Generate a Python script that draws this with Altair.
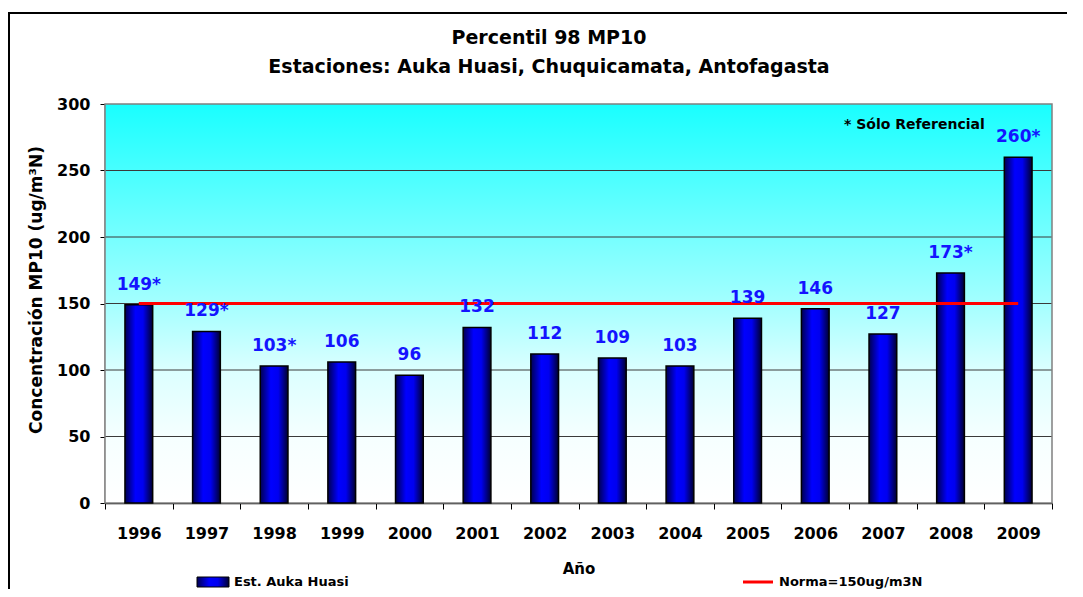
import altair as alt
import pandas as pd

years = ["1996", "1997", "1998", "1999", "2000", "2001", "2002", "2003", "2004",
         "2005", "2006", "2007", "2008", "2009"]
values = [149, 129, 103, 106, 96, 132, 112, 109, 103, 139, 146, 127, 173, 260]
labels = ["149*", "129*", "103*", "106", "96", "132", "112", "109", "103",
          "139", "146", "127", "173*", "260*"]
norma = [150] * 14
y_ticks = [0, 50, 100, 150, 200, 250, 300]
grid_vals = [50, 100, 150, 200, 250]

title1 = "Percentil 98 MP10"
title2 = "Estaciones: Auka Huasi, Chuquicamata, Antofagasta"
y_title = "Concentración MP10 (ug/m³N)"
x_title = "Año"
note = "* Sólo Referencial"
legend_bar = "Est. Auka Huasi"
legend_line = "Norma=150ug/m3N"

df = pd.DataFrame({"year": years, "value": values, "label": labels, "norma": norma})
gdf = pd.DataFrame({"g": grid_vals})

W, H = 947, 399
FONT = "DejaVu Sans"

bar_grad = alt.Gradient(
    gradient="linear", x1=0, x2=1, y1=0, y2=0,
    stops=[alt.GradientStop(color="#000050", offset=0),
           alt.GradientStop(color="#0000FF", offset=0.38),
           alt.GradientStop(color="#0000F0", offset=0.65),
           alt.GradientStop(color="#000030", offset=1)])

bg_grad = alt.Gradient(
    gradient="linear", x1=0, x2=0, y1=0, y2=1,
    stops=[alt.GradientStop(color="#19FFFF", offset=0),
           alt.GradientStop(color="#A4FFFF", offset=0.5),
           alt.GradientStop(color="#DCFFFF", offset=0.67),
           alt.GradientStop(color="#F6FFFF", offset=0.84),
           alt.GradientStop(color="#FFFFFF", offset=1)])

yscale = alt.Scale(domain=[0, 300])
yaxis = alt.Axis(title=None, values=y_ticks,
                 labelFont=FONT, labelFontSize=16, labelFontWeight="bold",
                 labelColor="black", labelPadding=10, domainColor="black",
                 domainWidth=1.5, tickColor="black", tickSize=5, grid=False)
xenc = alt.X("year:N", sort=years,
             scale=alt.Scale(paddingInner=0, paddingOuter=0),
             axis=alt.Axis(title=None, labelAngle=0, tickBand="extent",
                           labelFont=FONT, labelFontSize=16, labelFontWeight="bold",
                           labelColor="black", labelPadding=16, domainColor="black",
                           domainWidth=1.5, tickColor="black", tickSize=6, grid=False))

base = alt.Chart(df)

bg = alt.Chart(pd.DataFrame({"a": [0]})).mark_rect(fill=bg_grad).encode(
    x=alt.value(0), x2=alt.value(W), y=alt.value(0), y2=alt.value(H))

frame = alt.Chart(pd.DataFrame({"a": [0]})).mark_rect(
    fill="transparent", stroke="#808080", strokeWidth=1.5).encode(
    x=alt.value(0), x2=alt.value(W), y=alt.value(0), y2=alt.value(H))

grid = alt.Chart(gdf).mark_rule(color="#3a3a3a", strokeWidth=1).encode(
    y=alt.Y("g:Q", scale=yscale, axis=yaxis), x=alt.value(0), x2=alt.value(W))

bars = base.mark_bar(fill=bar_grad, stroke="black", strokeWidth=1.5,
                     width=alt.RelativeBandSize(0.41)).encode(
    x=xenc,
    y=alt.Y("value:Q", scale=yscale, axis=yaxis),
)

line = base.mark_line(color="#FF0000", strokeWidth=3).encode(
    x=alt.X("year:N", sort=years), y=alt.Y("norma:Q", scale=yscale, axis=yaxis))

text = base.mark_text(font=FONT, fontSize=17, fontWeight="bold", color="#1414FF",
                      baseline="bottom", dy=-11).encode(
    x=alt.X("year:N", sort=years), y=alt.Y("value:Q", scale=yscale, axis=yaxis),
    text="label:N")

def txt(s, x, y, size, align="center", angle=None):
    kw = dict(font=FONT, fontSize=size, fontWeight="bold", color="black",
              align=align, baseline="middle")
    if angle is not None:
        kw["angle"] = angle
    return alt.Chart(pd.DataFrame({"t": [s]})).mark_text(**kw).encode(
        x=alt.value(x), y=alt.value(y), text="t:N")

border = alt.Chart(pd.DataFrame({"a": [0]})).mark_rect(
    fill="transparent", stroke="black", strokeWidth=2).encode(
    x=alt.value(-96), x2=alt.value(2000), y=alt.value(-91), y2=alt.value(2000))

LEG_Y = 478
leg_sw = alt.Chart(pd.DataFrame({"a": [0]})).mark_rect(
    fill=bar_grad, stroke="black", strokeWidth=1).encode(
    x=alt.value(92), x2=alt.value(124), y=alt.value(LEG_Y - 5), y2=alt.value(LEG_Y + 5))
leg_ln = alt.Chart(pd.DataFrame({"a": [0]})).mark_rule(
    color="#FF0000", strokeWidth=3).encode(
    x=alt.value(638), x2=alt.value(668), y=alt.value(LEG_Y))

chart = alt.layer(
    border, bg, grid, frame, bars, line, text,
    txt(title1, 444, -66, 19), txt(title2, 444, -37, 19),
    txt(y_title, -68, 186, 17, angle=270),
    txt(x_title, 474, 465, 15),
    txt(note, 739, 21, 14, align="left"),
    leg_sw, txt(legend_bar, 129, LEG_Y, 13, align="left"),
    leg_ln, txt(legend_line, 674, LEG_Y, 13, align="left"),
).properties(
    width=W, height=H,
    autosize=alt.AutoSizeParams(type="none"),
    padding={"left": 97, "top": 96, "right": 15, "bottom": 86},
    background="white",
).configure_view(stroke=None)

chart.save("out.html", embed_options={"renderer": "svg", "actions": False})
